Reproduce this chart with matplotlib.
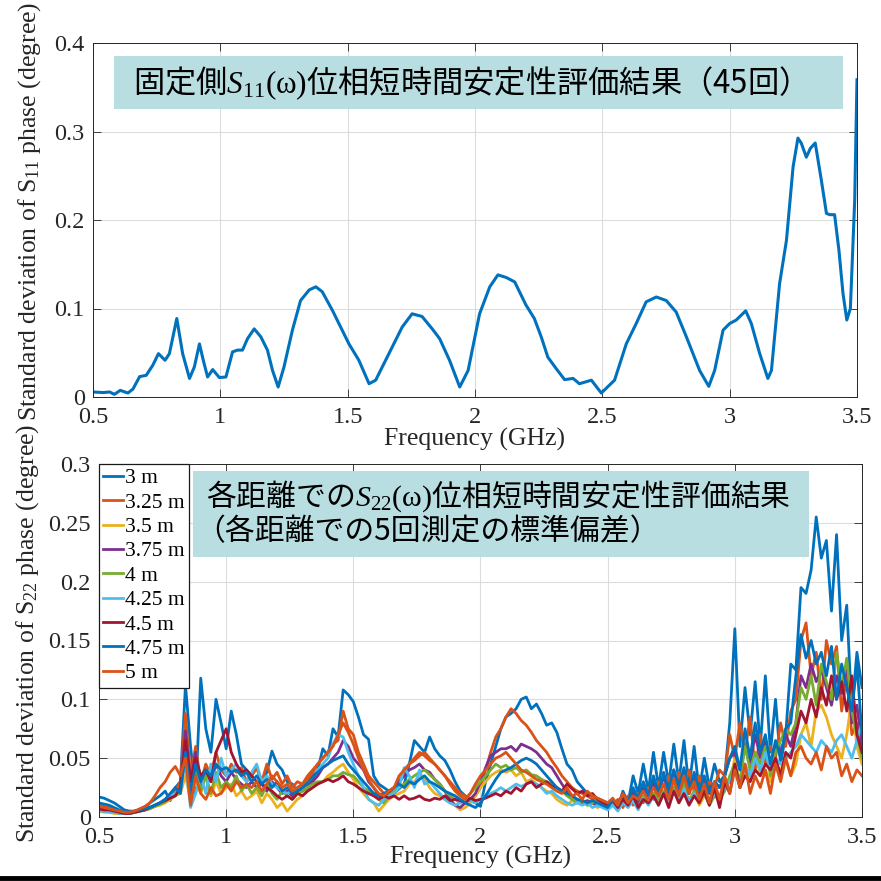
import numpy as np
import matplotlib
matplotlib.use("Agg")
import matplotlib.pyplot as plt
from matplotlib.patches import Rectangle
from matplotlib.lines import Line2D

plt.rcParams["font.family"] = ["Liberation Serif", "DejaVu Serif"]
plt.rcParams["mathtext.fontset"] = "custom"
plt.rcParams["mathtext.rm"] = "Liberation Serif"
plt.rcParams["mathtext.it"] = "Liberation Serif:italic"

# ---- S11 (fixed side), 45 repeated measurements ----
f11 = [0.500, 0.540, 0.565, 0.584, 0.607, 0.637, 0.657, 0.683, 0.709, 0.735,
       0.757, 0.783, 0.800, 0.829, 0.852, 0.879, 0.898, 0.918, 0.933, 0.950,
       0.970, 0.996, 1.022, 1.048, 1.068, 1.087, 1.107, 1.133, 1.159, 1.185,
       1.205, 1.227, 1.250, 1.283, 1.315, 1.349, 1.375, 1.400, 1.440, 1.505,
       1.544, 1.584, 1.610, 1.662, 1.714, 1.753, 1.792, 1.832, 1.861, 1.900,
       1.940, 1.973, 2.018, 2.058, 2.090, 2.123, 2.156, 2.200, 2.233, 2.260,
       2.286, 2.319, 2.352, 2.385, 2.410, 2.457, 2.496, 2.548, 2.594, 2.633,
       2.672, 2.712, 2.751, 2.790, 2.830, 2.882, 2.918, 2.941, 2.974, 3.000,
       3.026, 3.063, 3.085, 3.118, 3.150, 3.164, 3.196, 3.223, 3.249, 3.268,
       3.281, 3.301, 3.317, 3.336, 3.360, 3.380, 3.393, 3.412, 3.429, 3.445,
       3.460, 3.474, 3.491, 3.500]
s11_std = [0.0057, 0.0050, 0.0057, 0.0030, 0.0075, 0.0045, 0.0090, 0.0230, 0.0245, 0.0360,
           0.0490, 0.0415, 0.0490, 0.0887, 0.0490, 0.0210, 0.0340, 0.0600, 0.0415, 0.0226,
           0.0310, 0.0220, 0.0226, 0.0510, 0.0530, 0.0530, 0.0660, 0.0770, 0.0680, 0.0530,
           0.0300, 0.0113, 0.0340, 0.0755, 0.1090, 0.1210, 0.1245, 0.1190, 0.0980, 0.0600,
           0.0415, 0.0150, 0.0190, 0.0490, 0.0790, 0.0940, 0.0910, 0.0770, 0.0660, 0.0415,
           0.0113, 0.0300, 0.0940, 0.1245, 0.1380, 0.1350, 0.1300, 0.1040, 0.0887, 0.0680,
           0.0450, 0.0320, 0.0196, 0.0210, 0.0150, 0.0190, 0.0045, 0.0190, 0.0600, 0.0830,
           0.1075, 0.1130, 0.1090, 0.0960, 0.0680, 0.0300, 0.0120, 0.0300, 0.0755, 0.0830,
           0.0870, 0.0974, 0.0830, 0.0490, 0.0210, 0.0300, 0.1280, 0.1770, 0.2600, 0.2925,
           0.2870, 0.2710, 0.2810, 0.2870, 0.2450, 0.2075, 0.2060, 0.2060, 0.1660, 0.1170,
           0.0870, 0.1000, 0.2225, 0.3585]

# ---- S22 per distance, 5 measurements each (values in 1e-3 degree) ----
f22 = np.linspace(0.5, 3.5, 151)
distances = ["3 m", "3.25 m", "3.5 m", "3.75 m", "4 m", "4.25 m", "4.5 m", "4.75 m", "5 m"]

std_3m = [17, 16, 14, 12, 9, 6, 5, 5, 6, 7,
          12, 15, 18, 22, 14, 25, 30, 112, 60, 20,
          118, 75, 55, 100, 80, 58, 90, 70, 45, 40,
          35, 42, 30, 38, 56, 45, 40, 30, 28, 22,
          25, 28, 32, 40, 58, 52, 75, 68, 108, 104,
          98, 85, 70, 66, 35, 28, 25, 22, 20, 24,
          28, 45, 65, 60, 55, 68, 58, 52, 48, 40,
          30, 22, 18, 14, 12, 9, 30, 45, 60, 75,
          85, 88, 92, 100, 102, 92, 96, 88, 78, 80,
          72, 58, 45, 40, 30, 25, 20, 18, 15, 12,
          10, 14, 8, 22, 12, 35, 20, 45, 22, 55,
          25, 55, 28, 62, 30, 65, 25, 60, 22, 50,
          25, 45, 30, 35, 80, 160, 60, 110, 70, 115,
          60, 120, 55, 100, 45, 70, 130, 125, 195, 190,
          210, 255, 220, 235, 175, 240, 150, 180, 90, 140,
          110]
std_325m = [10, 9, 8, 7, 5, 4, 4, 5, 6, 7,
            8, 10, 12, 14, 18, 22, 30, 88, 35, 60,
            30, 45, 35, 55, 40, 35, 45, 38, 42, 30,
            35, 42, 30, 45, 32, 38, 28, 35, 25, 30,
            28, 35, 40, 45, 50, 55, 62, 65, 90, 75,
            70, 55, 45, 35, 30, 25, 20, 22, 25, 30,
            38, 45, 50, 55, 52, 48, 45, 40, 35, 30,
            25, 20, 18, 15, 18, 25, 40, 55, 68, 75,
            85, 92, 88, 82, 78, 72, 65, 60, 55, 48,
            42, 35, 30, 25, 22, 20, 18, 15, 16, 14,
            12, 10, 15, 8, 18, 10, 20, 12, 25, 15,
            30, 18, 35, 20, 38, 25, 40, 22, 35, 20,
            30, 25, 40, 35, 70, 50, 80, 55, 85, 40,
            70, 45, 60, 50, 80, 60, 90, 100, 150, 165,
            120, 140, 100, 150, 130, 145, 90, 120, 70, 80,
            60]
std_35m = [5, 4, 4, 3, 3, 3, 3, 4, 5, 6,
           7, 9, 10, 12, 15, 18, 20, 35, 15, 30,
           20, 35, 18, 30, 20, 25, 28, 18, 22, 15,
           18, 22, 12, 20, 15, 8, 12, 5, 10, 15,
           18, 22, 25, 28, 30, 35, 38, 42, 45, 38,
           32, 25, 20, 15, 12, 5, 10, 15, 18, 20,
           22, 28, 30, 35, 32, 25, 20, 18, 15, 12,
           10, 6, 8, 12, 18, 25, 30, 35, 38, 40,
           38, 40, 35, 38, 30, 32, 28, 25, 22, 20,
           15, 12, 10, 14, 12, 15, 10, 12, 8, 10,
           8, 12, 6, 14, 10, 16, 8, 18, 12, 20,
           12, 22, 15, 25, 12, 20, 15, 22, 10, 18,
           15, 20, 12, 25, 30, 50, 25, 40, 30, 55,
           35, 40, 30, 45, 40, 50, 35, 45, 70, 80,
           60, 90, 95, 85, 70, 60, 50, 70, 100, 60,
           45]
std_375m = [8, 7, 6, 5, 4, 3, 3, 4, 5, 6,
            8, 10, 12, 15, 18, 20, 25, 73, 30, 55,
            25, 40, 30, 45, 35, 30, 38, 32, 28, 25,
            30, 25, 28, 22, 30, 25, 20, 22, 18, 20,
            22, 25, 30, 35, 42, 45, 50, 55, 65, 60,
            50, 45, 40, 30, 25, 18, 15, 20, 25, 30,
            35, 40, 42, 45, 40, 38, 32, 28, 22, 15,
            10, 8, 12, 15, 20, 30, 42, 52, 55, 58,
            58, 60, 56, 62, 60, 58, 55, 50, 45, 42,
            35, 28, 22, 18, 15, 12, 14, 12, 10, 12,
            10, 14, 8, 18, 10, 22, 12, 25, 15, 30,
            18, 35, 20, 40, 22, 38, 20, 35, 18, 30,
            20, 30, 25, 35, 50, 55, 40, 60, 45, 70,
            50, 65, 45, 60, 55, 70, 60, 80, 120, 110,
            130, 115, 125, 110, 95, 120, 105, 130, 80, 95,
            60]
std_4m = [6, 5, 5, 4, 3, 3, 3, 4, 5, 6,
          7, 9, 11, 13, 16, 18, 22, 60, 20, 45,
          22, 35, 20, 38, 25, 30, 25, 35, 22, 28,
          20, 25, 18, 28, 20, 15, 22, 18, 15, 20,
          22, 25, 28, 30, 30, 32, 35, 35, 38, 36,
          35, 30, 25, 22, 20, 15, 12, 18, 22, 25,
          28, 32, 35, 38, 40, 36, 32, 28, 22, 18,
          15, 12, 15, 20, 25, 30, 35, 40, 45, 42,
          44, 40, 42, 38, 40, 36, 35, 32, 30, 28,
          25, 22, 18, 15, 12, 14, 10, 12, 15, 10,
          8, 12, 6, 14, 10, 16, 8, 18, 12, 20,
          15, 22, 12, 25, 15, 28, 12, 22, 15, 20,
          10, 18, 15, 22, 35, 45, 30, 60, 40, 55,
          45, 60, 35, 55, 65, 75, 70, 80, 110, 100,
          120, 95, 130, 115, 100, 140, 110, 135, 90, 70,
          50]
std_425m = [5, 5, 4, 4, 3, 3, 3, 4, 5, 7,
            8, 10, 12, 15, 18, 20, 25, 45, 8, 20,
            35, 20, 45, 30, 50, 35, 40, 45, 35, 30,
            38, 45, 30, 35, 28, 25, 22, 20, 22, 25,
            28, 30, 35, 40, 45, 50, 62, 70, 68, 55,
            45, 35, 25, 15, 12, 10, 15, 18, 20, 25,
            42, 35, 25, 40, 28, 30, 25, 20, 15, 12,
            10, 12, 15, 14, 12, 15, 18, 20, 22, 25,
            22, 25, 28, 26, 28, 30, 28, 25, 20, 22,
            18, 15, 12, 10, 12, 10, 12, 8, 10, 8,
            6, 10, 5, 12, 8, 14, 6, 16, 10, 18,
            10, 20, 12, 22, 14, 24, 12, 20, 14, 22,
            12, 20, 15, 25, 30, 40, 25, 45, 35, 50,
            40, 55, 40, 50, 45, 50, 55, 60, 70, 65,
            60, 55, 65, 60, 55, 65, 70, 60, 50, 65,
            80]
std_45m = [7, 6, 6, 5, 4, 3, 3, 4, 5, 6,
           8, 10, 12, 14, 16, 18, 25, 65, 30, 50,
           35, 40, 30, 55, 65, 75, 55, 45, 38, 40,
           35, 30, 28, 25, 22, 18, 15, 18, 15, 20,
           18, 22, 25, 28, 30, 32, 30, 32, 35, 30,
           28, 25, 22, 20, 18, 15, 18, 16, 18, 15,
           18, 15, 16, 18, 15, 14, 16, 15, 18, 14,
           15, 14, 12, 16, 14, 15, 16, 18, 20, 18,
           22, 20, 25, 22, 28, 30, 25, 28, 30, 26,
           25, 22, 28, 24, 20, 22, 18, 20, 15, 12,
           10, 14, 8, 15, 10, 18, 8, 15, 12, 18,
           10, 20, 8, 22, 12, 20, 10, 18, 12, 22,
           10, 25, 8, 30, 20, 45, 25, 35, 30, 40,
           35, 45, 40, 50, 35, 55, 50, 70, 90, 80,
           100, 85, 110, 95, 120, 100, 115, 90, 120, 70,
           55]
std_475m = [12, 11, 10, 8, 6, 4, 4, 5, 6, 7,
            8, 10, 12, 15, 20, 25, 20, 55, 20, 45,
            30, 40, 35, 45, 40, 42, 38, 40, 35, 38,
            30, 35, 28, 32, 25, 30, 22, 25, 20, 22,
            25, 30, 35, 38, 42, 45, 48, 50, 52, 45,
            40, 35, 30, 25, 20, 18, 20, 22, 25, 28,
            25, 30, 28, 32, 35, 30, 28, 25, 22, 20,
            18, 15, 12, 10, 8, 12, 18, 25, 32, 38,
            40, 42, 45, 48, 50, 48, 45, 40, 35, 30,
            25, 22, 20, 18, 15, 14, 12, 14, 12, 10,
            8, 15, 10, 20, 12, 25, 15, 30, 18, 35,
            20, 38, 22, 40, 25, 42, 20, 38, 22, 35,
            20, 30, 25, 35, 50, 60, 40, 75, 50, 80,
            55, 70, 45, 65, 50, 75, 80, 120, 155, 135,
            150, 130, 140, 120, 145, 100, 130, 110, 90, 130,
            70]
std_5m = [9, 8, 7, 6, 5, 4, 4, 5, 7, 9,
          12, 18, 25, 30, 38, 43, 35, 50, 10, 35,
          20, 15, 25, 18, 20, 28, 22, 30, 25, 28,
          25, 30, 22, 28, 35, 30, 25, 28, 22, 25,
          28, 32, 38, 45, 50, 55, 60, 70, 80, 72,
          62, 50, 40, 32, 25, 20, 18, 22, 25, 35,
          40, 45, 48, 52, 55, 50, 45, 40, 35, 28,
          22, 18, 15, 20, 28, 35, 40, 45, 50, 52,
          55, 50, 45, 40, 38, 35, 32, 30, 28, 25,
          22, 20, 25, 18, 20, 15, 22, 18, 16, 14,
          12, 16, 10, 20, 12, 18, 15, 22, 14, 25,
          18, 28, 15, 32, 18, 35, 20, 30, 15, 28,
          12, 30, 15, 35, 20, 40, 25, 45, 20, 35,
          25, 40, 20, 45, 30, 50, 35, 55, 60, 50,
          45, 55, 40, 60, 50, 55, 35, 45, 30, 40,
          35]

s22_series = [std_3m, std_325m, std_35m, std_375m, std_4m,
              std_425m, std_45m, std_475m, std_5m]

# MATLAB default line colour order
colors = ["#0072BD", "#D95319", "#EDB120", "#7E2F8E", "#77AC30",
          "#4DBEEE", "#A2142F", "#0072BD", "#D95319"]

ax_col = "#262626"
box_col = "#b9dee1"
cjk = ["Noto Sans CJK JP", "Liberation Serif"]


def matlab_axes(ax, yticks, ylabels):
    ax.set_xlim(0.5, 3.5)
    ax.set_xticks([0.5, 1, 1.5, 2, 2.5, 3, 3.5])
    ax.set_xticklabels(["0.5", "1", "1.5", "2", "2.5", "3", "3.5"])
    ax.set_yticks(yticks)
    ax.set_yticklabels(ylabels)
    ax.grid(True, color="#dcdcdc", lw=0.8)
    ax.set_axisbelow(True)
    ax.tick_params(direction="in", length=6, width=0.6, colors=ax_col,
                   labelsize=17.5, top=True, right=True)
    ax.tick_params(axis="x", pad=7)
    ax.tick_params(axis="y", pad=6)
    for sp in ax.spines.values():
        sp.set_color(ax_col)
        sp.set_linewidth(0.7)


fig = plt.figure(figsize=(8.81, 8.81), dpi=100)
W = H = 881.0

# top: S11
ax1 = fig.add_axes([93 / W, 1 - 397 / H, 764 / W, 354 / H])
ax1.plot(f11, s11_std, color="#0072BD", lw=2.2)
ax1.set_ylim(0, 0.4)
matlab_axes(ax1, [0, 0.1, 0.2, 0.3, 0.4], ["0", "0.1", "0.2", "0.3", "0.4"])
ax1.set_xlabel("Frequency (GHz)", fontsize=18.5, color=ax_col, labelpad=0)
ax1.set_ylabel(r"Standard deviation of $\mathrm{S}_{11}$ phase (degree)",
               fontsize=18.5, color=ax_col, va="center")
ax1.yaxis.set_label_coords(-0.083, 0.525)

# bottom: S22 for each distance
ax2 = fig.add_axes([99 / W, 1 - 817 / H, 763 / W, 353 / H])
for vals, lab, c in zip(s22_series, distances, colors):
    ax2.plot(f22, np.array(vals) * 1e-3, color=c, lw=2.0, label=lab)
ax2.set_ylim(0, 0.3)
matlab_axes(ax2, [0, 0.05, 0.1, 0.15, 0.2, 0.25, 0.3],
            ["0", "0.05", "0.1", "0.15", "0.2", "0.25", "0.3"])
ax2.set_xlabel("Frequency (GHz)", fontsize=18.5, color=ax_col, labelpad=-1)
ax2.set_ylabel(r"Standard deviation of $\mathrm{S}_{22}$ phase (degree)",
               fontsize=18.5, color=ax_col, va="center")
ax2.yaxis.set_label_coords(-0.093, 0.52)
leg = ax2.legend(loc="upper left", fontsize=15.5, handlelength=0.9,
                 handletextpad=0.1, labelspacing=0.2, borderpad=0.2,
                 borderaxespad=0, fancybox=False, framealpha=1)
leg.get_frame().set_edgecolor("#1a1a1a")
leg.get_frame().set_linewidth(0.9)

# caption boxes
fig.add_artist(Rectangle((114 / W, 1 - 109 / H), 729 / W, 53 / H,
                         transform=fig.transFigure, fc=box_col, ec="none"))
fig.text(133 / W, 1 - 83 / H,
         r"固定側$S_{11}\mathrm{(ω)}$位相短時間安定性評価結果（45回）",
         family=cjk, fontsize=22.5, ha="left", va="center", color="black")

fig.add_artist(Rectangle((193 / W, 1 - 557 / H), 616 / W, 86 / H,
                         transform=fig.transFigure, fc=box_col, ec="none"))
fig.text(206 / W, 1 - 496 / H,
         r"各距離での$S_{22}\mathrm{(ω)}$位相短時間安定性評価結果",
         family=cjk, fontsize=21.5, ha="left", va="center", color="black")
fig.text(195 / W, 1 - 532 / H, "（各距離での5回測定の標準偏差）",
         family=cjk, fontsize=21.5, ha="left", va="center", color="black")

# rule along the bottom edge
fig.add_artist(Line2D([0, 1], [3.5 / H, 3.5 / H], transform=fig.transFigure,
                      color="black", lw=3.5))

fig.savefig("out.png", dpi=100)
